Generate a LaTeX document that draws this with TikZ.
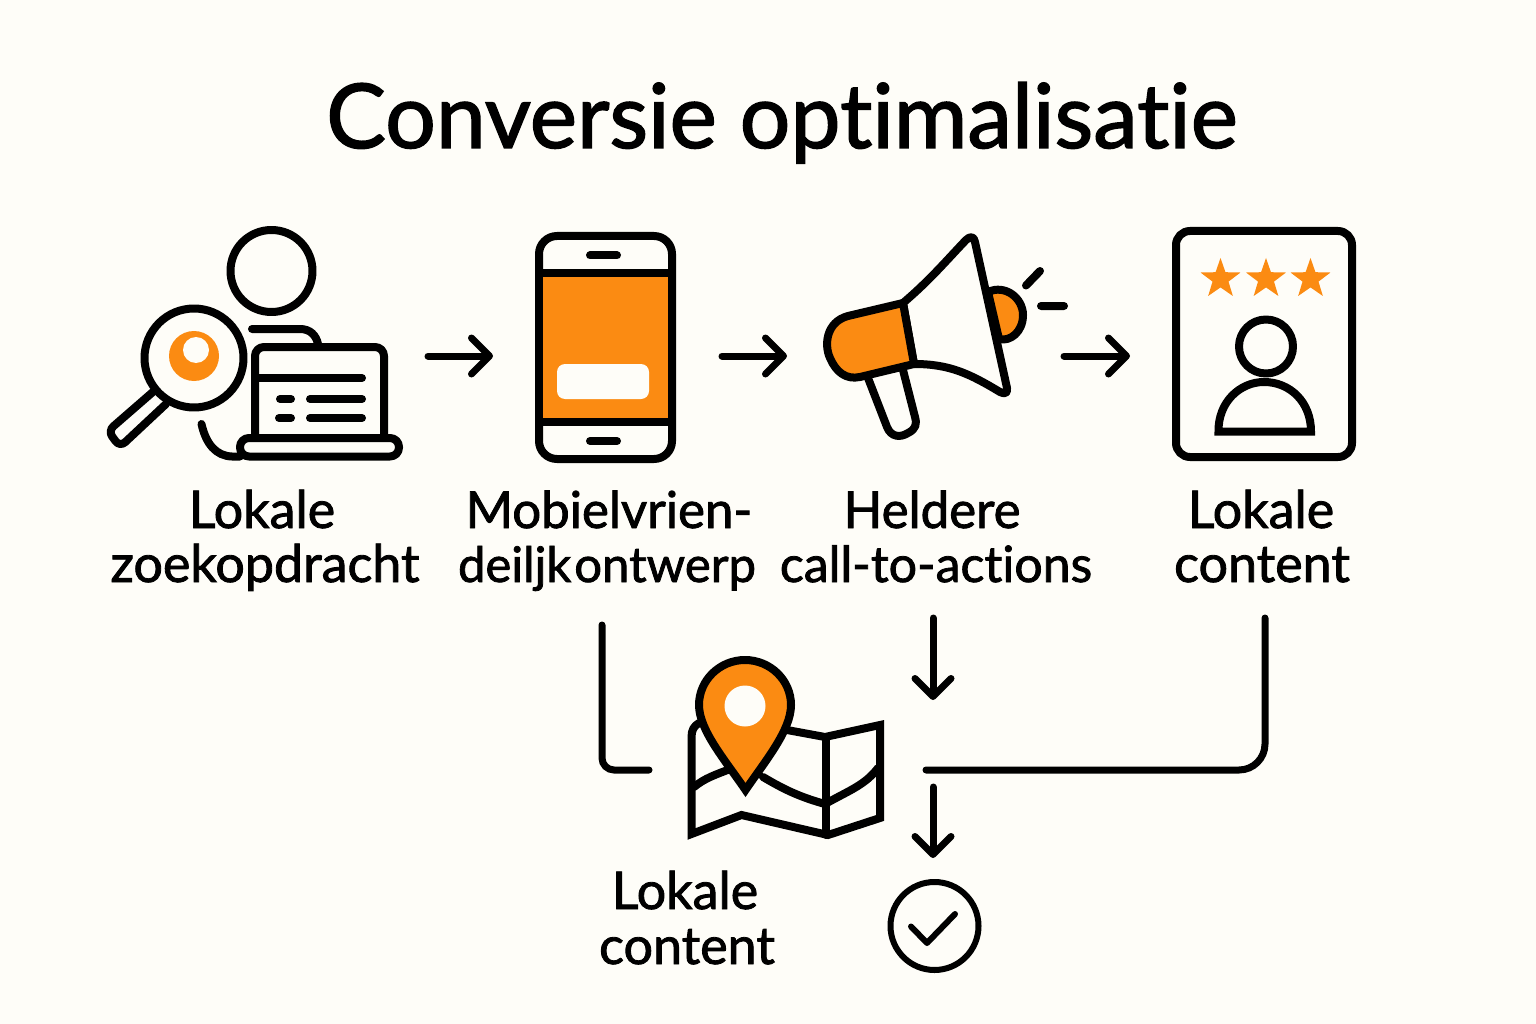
\documentclass[tikz,border=0pt]{standalone}
\usepackage{fontspec}
\setmainfont{Lato}[Ligatures=NoCommon]
\newfontfamily\heavyfont{Lato}[Ligatures=NoCommon,FakeBold=1.6]
\usetikzlibrary{arrows.meta,shapes.geometric}
\definecolor{paper}{HTML}{FEFDF8}
\definecolor{accent}{HTML}{FB8B12}
\tikzset{
  line/.style={line width=8pt,line cap=round,line join=round},
  flow/.style={line width=7pt,line cap=round,-{Straight Barb[length=18pt,width=36pt,round]}},
  wire/.style={line width=7pt,line cap=round,rounded corners=#1},
  titletext/.style={anchor=base,font=\heavyfont\fontsize{89.5}{100}\selectfont},
  labeltext/.style={anchor=base,font=\heavyfont\fontsize{#1}{60}\selectfont},
  labeltext/.default=51,
  starmark/.style={star,star points=5,star point ratio=2.5,fill=accent,inner sep=0pt,minimum size=42pt}
}
\begin{document}
\begin{tikzpicture}[x=1pt,y=-1pt]
    \useasboundingbox[fill=paper] (0,0) rectangle (1536,1024);
    \node[titletext] (title) at (782,148) {Conversie optimalisatie};
    \draw[line] (271.5,271) circle (41);
    \draw[line] (252,329) -- (300,329) .. controls (310,329) and (316,335) .. (318,344);
    \draw[line,rounded corners=9pt] (255,437) -- (255,347) -- (384,347) -- (384,437);
    \draw[line] (255,378) -- (362,378) (280,399) -- (291,399) (310,399) -- (362,399) (279,418) -- (291,418) (310,418) -- (362,418);
    \draw[line,fill=paper,rounded corners=9pt] (240,438) rectangle (399,456.5);
    \draw[line] (201.5,424) .. controls (206,444) and (216,456) .. (232,456.5) -- (240,456.5);
    \draw[line,rounded corners=7pt] (154,391) -- (108,431) -- (120,447) -- (166,404);
    \draw[line,fill=paper] (194,358) circle (49.5);
    \fill[accent] (194,356) circle (25);
    \fill[paper] (196,350) circle (13);
    \draw[line width=8pt,rounded corners=18pt] (539,236) rectangle (672,459);
    \fill[accent] (543,277) rectangle (668,418);
    \draw[line width=8pt] (539,273) -- (672,273) (539,422) -- (672,422);
    \draw[line width=8pt,line cap=round] (590,255.5) -- (617,255.5) (590,441) -- (617,441);
    \fill[paper,rounded corners=8pt] (557,364) rectangle (649,399);
    \draw[line,fill=paper] (868,378) -- (887,427) .. controls (891,437) and (900,438) .. (908,433) .. controls (916,429) and (917,424) .. (915,417) -- (903,370);
    \draw[line,fill=paper] (903,303) .. controls (930,280) and (945,262) .. (966,240) .. controls (970,236) and (974,236) .. (975,242) -- (1007,388) .. controls (1008,394) and (1004,394) .. (1000,392) .. controls (970,374) and (950,364) .. (914,364) -- cycle;
    \draw[line,fill=accent] (903,303) -- (848,316) .. controls (826,322) and (824,345) .. (830,358) .. controls (836,372) and (846,380) .. (860,377) -- (914,364) -- cycle;
    \draw[line,fill=accent] (988,292) .. controls (1005,284) and (1023,298) .. (1023,315) .. controls (1023,332) and (1010,342) .. (999,339) -- cycle;
    \draw[line] (1026,285.5) -- (1040,271) (1041,306) -- (1064,306);
    \draw[line,rounded corners=14pt] (1176,231) rectangle (1352,457);
    \foreach \n/\xs in {1/1220.5,2/1266,3/1310.5}
      \node[starmark] (star\n) at (\xs,279) {};
    \draw[line] (1266,346.5) circle (27);
    \draw[line,line join=miter] (1218.5,431.5) .. controls (1218,402) and (1240,382) .. (1264,382) .. controls (1290,382) and (1311,402) .. (1311,431.5) -- cycle;
    \draw[line,line join=miter] (699,723) .. controls (694,726) and (691.5,730) .. (691.5,737) -- (691.5,834) -- (741.5,815) -- (828,835) -- (880,818) -- (880,725) -- (825,737) -- (787,730);
    \draw[line] (826,737) -- (826,835);
    \draw[line] (694,787) .. controls (705,778) and (715,775) .. (730,769) (763,777) .. controls (785,790) and (800,797) .. (825,804) .. controls (850,790) and (865,785) .. (878,768);
    \draw[line width=8pt,line join=miter,fill=accent] (745.5,790) .. controls (725,760) and (699,730) .. (699,705) .. controls (699,680) and (720,660) .. (745,660) .. controls (770,660) and (791,680) .. (791,705) .. controls (791,730) and (766,760) .. (745.5,790) -- cycle;
    \fill[paper] (745,706) circle (20.5);
    \coordinate (phonefrom) at (428,356);
    \coordinate (phoneto) at (493,356);
    \coordinate (megafrom) at (722,356);
    \coordinate (megato) at (787,356);
    \coordinate (cardfrom) at (1064,356);
    \coordinate (cardto) at (1130,356);
    \coordinate (ctafrom) at (933,618);
    \coordinate (ctato) at (933,700);
    \coordinate (mergefrom) at (933,787);
    \coordinate (mergeto) at (933,858);
    \coordinate (leftfrom) at (602,625);
    \coordinate (leftbend) at (602,770);
    \coordinate (leftto) at (649,770);
    \coordinate (rightfrom) at (1265,618);
    \coordinate (rightbend) at (1265,770);
    \coordinate (rightto) at (926,770);
    \draw[flow] (phonefrom) -- (phoneto);
    \draw[flow] (megafrom) -- (megato);
    \draw[flow] (cardfrom) -- (cardto);
    \draw[flow] (ctafrom) -- (ctato);
    \draw[flow] (mergefrom) -- (mergeto);
    \draw[wire=12pt] (leftfrom) -- (leftbend) -- (leftto);
    \draw[wire=26pt] (rightfrom) -- (rightbend) -- (rightto);
    \node[circle,draw,line width=6pt,minimum size=88pt,inner sep=0pt] (done) at (934.5,926) {};
    \coordinate (tickleft) at (911,926.5);
    \coordinate (tickmid) at (927,943);
    \coordinate (tickright) at (955,914);
    \draw[line,line width=6pt] (tickleft) -- (tickmid) -- (tickright);
    \node[labeltext=52] (searchA) at (262,528) {Lokale};
    \node[labeltext=52] (searchB) at (265,582) {zoekopdracht};
    \node[labeltext] (mobileA) at (609,528) {Mobielvrien-};
    \node[labeltext=49] (mobileB) at (607,582) {deiljk\hspace{3pt}ontwerp};
    \node[labeltext] (ctaA) at (932,528) {Heldere};
    \node[labeltext=50] (ctaB) at (936,582) {call-to-actions};
    \node[labeltext=52] (contentA) at (1261,528) {Lokale};
    \node[labeltext=52] (contentB) at (1262,582) {content};
    \node[labeltext=52] (mapA) at (685,909) {Lokale};
    \node[labeltext=52] (mapB) at (687,964) {content};
\end{tikzpicture}
\end{document}
